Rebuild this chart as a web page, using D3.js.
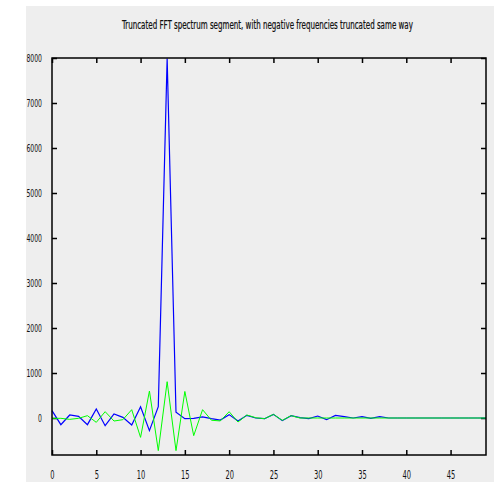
<!DOCTYPE html>
<html>
<head>
<meta charset="utf-8">
<script src="https://cdn.jsdelivr.net/npm/d3@7"></script>
<style>
  body { margin: 0; background: #fff; }
  text { font-family: "Liberation Sans Narrow", "DejaVu Sans Condensed", sans-serif; fill: #111; }
</style>
</head>
<body>
<div id="chart"></div>
<script>
// bins 0..49 of the truncated spectrum
const bins = d3.range(50);
const realPart = [163, -148, 67, 37, -148, 200, -170, 89, 15, -155,
                  250, -280, 250, 7990, 130, -15, -10, 25, -15, -45,
                  75, -67, 59, 0, -15, 81, -59, 52, 7, -15,
                  44, -37, 59, 30, 0, 30, -7, 30, 0, 0,
                  0, 0, 0, 0, 0, 0, 0, 0, 0, 0];
const imagPart = [-7, -7, -30, -7, 52, -96, 141, -67, -37, 185,
                  -430, 600, -725, 807, -725, 590, -392, 185, -50, -65,
                  140, -89, 67, 7, -15, 81, -52, 52, 0, 0,
                  0, 0, 0, 0, 0, 0, 0, 0, 0, 0,
                  0, 0, 0, 0, 0, 0, 0, 0, 0, 0];
const xTicks = [0, 5, 10, 15, 20, 25, 30, 35, 40, 45];
const yTicks = [0, 1000, 2000, 3000, 4000, 5000, 6000, 7000, 8000];
const title = "Truncated FFT spectrum segment, with negative frequencies truncated same way";

const W = 494, H = 482;
const mLeft = 52, mRight = 486, mTop = 58, mBottom = 455;

const svg = d3.select("#chart")
              .append("svg")
              .attr("width", W)
              .attr("height", H);

svg.append("rect")
   .attr("x", 26).attr("y", 6)
   .attr("width", W - 26).attr("height", H - 6)
   .attr("fill", "#eeeeee");

const x = d3.scaleLinear().domain([0, 49]).range([mLeft, mRight]);
const y = d3.scaleLinear().domain([-822, 8000]).range([mBottom, mTop]);

// squeeze tick labels horizontally, the original font is very condensed
const sx = 0.62;
function squeeze(sel, anchor) {
    sel.selectAll("text").each(function() {
        const t = d3.select(this);
        const x0 = +t.attr("x") || 0;
        t.attr("x", x0 / sx)
         .attr("transform", `scale(${sx},1)`)
         .attr("text-anchor", anchor);
    });
}

const gx = svg.append("g")
   .attr("transform", `translate(0,${mBottom})`)
   .call(d3.axisBottom(x).tickValues(xTicks).tickSizeInner(-5).tickSizeOuter(0).tickPadding(15));
gx.select(".domain").remove();
gx.selectAll("text").attr("font-size", 12);
squeeze(gx, "middle");

const gxTop = svg.append("g")
   .attr("transform", `translate(0,${mTop})`)
   .call(d3.axisTop(x).tickValues(xTicks).tickSizeInner(-5).tickSizeOuter(0).tickFormat(""));
gxTop.select(".domain").remove();

const gy = svg.append("g")
   .attr("transform", `translate(${mLeft},0)`)
   .call(d3.axisLeft(y).tickValues(yTicks).tickFormat(d3.format("d"))
           .tickSizeInner(-5).tickSizeOuter(0).tickPadding(10));
gy.select(".domain").remove();
gy.selectAll("text").attr("font-size", 11);
squeeze(gy, "end");

const gyRight = svg.append("g")
   .attr("transform", `translate(${mRight},0)`)
   .call(d3.axisRight(y).tickValues(yTicks).tickSizeInner(-5).tickSizeOuter(0).tickFormat(""));
gyRight.select(".domain").remove();

svg.selectAll(".tick line").attr("stroke", "#000").attr("stroke-width", 1.5);

const line = d3.line()
               .x((d, i) => x(bins[i]))
               .y(d => y(d));

svg.append("path")
   .datum(realPart)
   .attr("fill", "none")
   .attr("stroke", "#0000ff")
   .attr("stroke-width", 1.2)
   .attr("d", line);

svg.append("path")
   .datum(imagPart)
   .attr("fill", "none")
   .attr("stroke", "#00ff00")
   .attr("stroke-width", 1)
   .attr("d", line);

svg.append("rect")
   .attr("x", mLeft).attr("y", mTop)
   .attr("width", mRight - mLeft).attr("height", mBottom - mTop)
   .attr("fill", "none")
   .attr("stroke", "#000")
   .attr("stroke-width", 1.5);

// title: measure its natural width, then squeeze it to the width seen in the reference
const titleCx = 267.5, titleW = 291;
const tt = svg.append("text")
   .attr("y", 29)
   .attr("text-anchor", "middle")
   .attr("font-size", 13)
   .attr("stroke", "#111")
   .attr("stroke-width", 0.25)
   .text(title);
const tsx = titleW / tt.node().getComputedTextLength();
tt.attr("x", titleCx / tsx).attr("transform", `scale(${tsx},1)`);
</script>
</body>
</html>
